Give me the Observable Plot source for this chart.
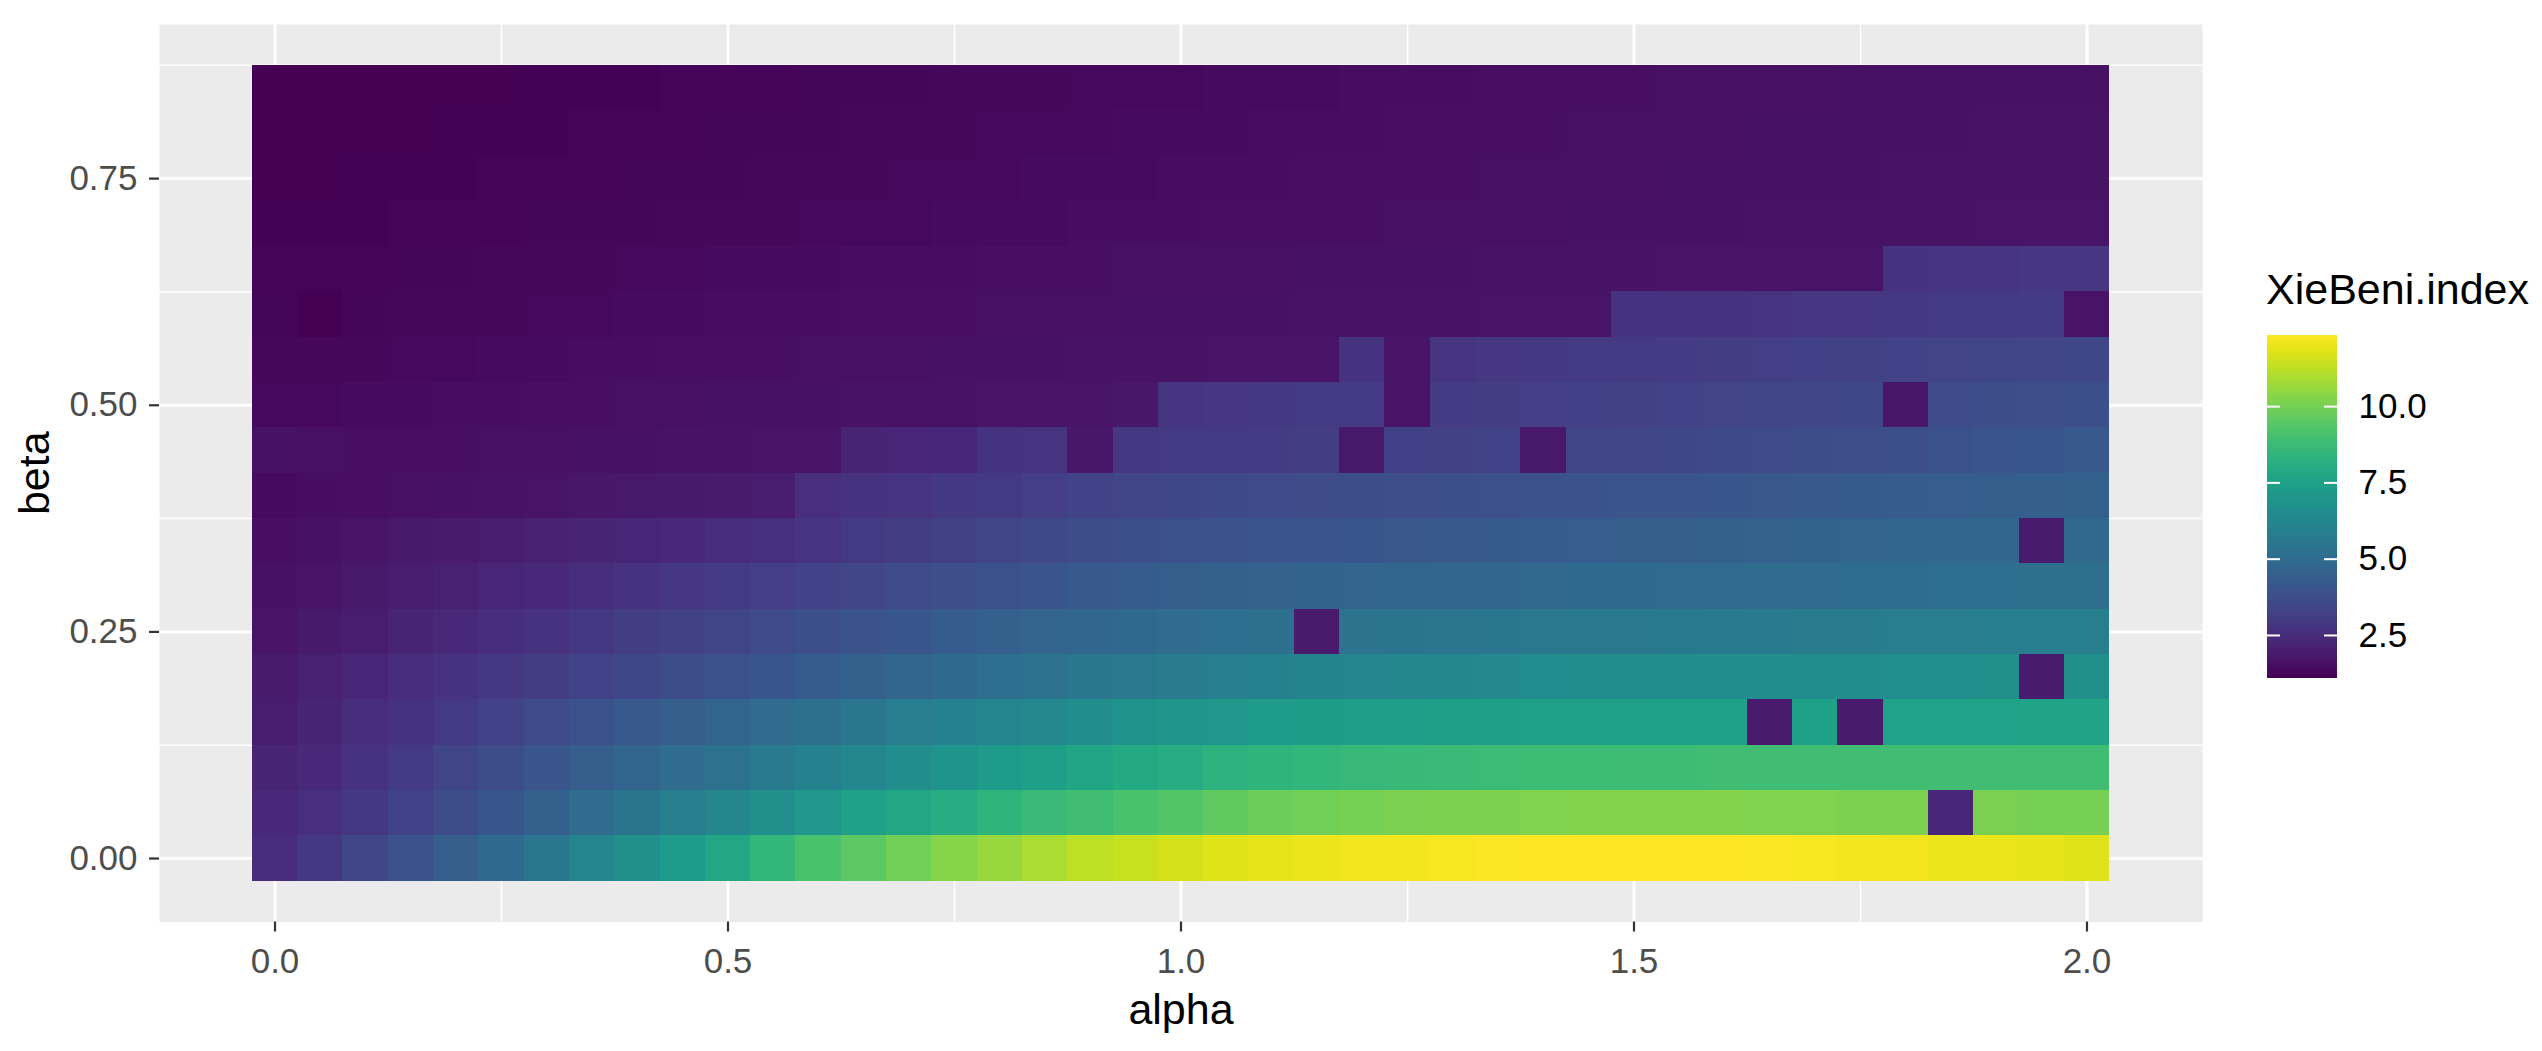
<!DOCTYPE html>
<html>
<head>
<meta charset="utf-8">
<script src="https://cdn.jsdelivr.net/npm/d3@7"></script>
<script src="https://cdn.jsdelivr.net/npm/@observablehq/plot@0.6"></script>
<style>
  html, body { margin: 0; padding: 0; background: #ffffff; }
  body { width: 2542px; height: 1051px; position: relative; overflow: hidden; font-family: "Liberation Sans", Arial, sans-serif; }
  #main { position: absolute; left: 0; top: 0; }
  #legend { position: absolute; left: 2240px; top: 0; }
  #legend-title { position: absolute; left: 2266px; top: 268px; font-size: 43px; line-height: 1; color: #000; white-space: nowrap; }
  [aria-label="x-axis label"], [aria-label="y-axis label"] { fill: #000; font-size: 43px; }
</style>
</head>
<body>
<div id="main"></div>
<div id="legend-title">XieBeni.index</div>
<div id="legend"></div>
<script>
// ---- axes values ----
const alphaValues = [0, 0.05, 0.1, 0.15, 0.2, 0.25, 0.3, 0.35, 0.4, 0.45, 0.5, 0.55, 0.6, 0.65, 0.7, 0.75, 0.8, 0.85, 0.9, 0.95,
  1.0, 1.05, 1.1, 1.15, 1.2, 1.25, 1.3, 1.35, 1.4, 1.45, 1.5, 1.55, 1.6, 1.65, 1.7, 1.75, 1.8, 1.85, 1.9, 1.95, 2.0];
const betaValues = [0, 0.05, 0.1, 0.15, 0.2, 0.25, 0.3, 0.35, 0.4, 0.45, 0.5, 0.55, 0.6, 0.65, 0.7, 0.75, 0.8, 0.85];
const xTicks = [0, 0.5, 1.0, 1.5, 2.0];
const yTicks = [0, 0.25, 0.5, 0.75];
const legendTicks = [2.5, 5.0, 7.5, 10.0];

// ---- XieBeni.index per beta row (alpha 0 .. 2 by 0.05) ----
const beta000 = [2.5, 2.9, 3.4, 3.9, 4.4, 4.9, 5.5, 6.2, 6.7, 7.2, 7.8, 8.5, 9.1, 9.5, 9.9, 10.3, 10.6, 10.9, 11.2, 11.4,
  11.6, 11.8, 11.9, 12.0, 12.1, 12.15, 12.2, 12.25, 12.3, 12.33, 12.33, 12.33, 12.3, 12.25, 12.2, 12.15, 12.1, 12.0, 11.95, 11.9, 11.8];
const beta005 = [2.4, 2.6, 2.9, 3.3, 3.7, 4.1, 4.5, 5.0, 5.4, 5.9, 6.3, 6.7, 7.1, 7.5, 7.8, 8.1, 8.4, 8.7, 8.9, 9.1,
  9.3, 9.6, 9.8, 9.9, 10.0, 10.05, 10.1, 10.1, 10.15, 10.2, 10.2, 10.2, 10.2, 10.15, 10.15, 10.1, 10.1, 2.3, 10.05, 10.0, 10.0];
const beta010 = [2.2, 2.4, 2.7, 3.0, 3.4, 3.7, 4.0, 4.4, 4.7, 5.0, 5.3, 5.7, 6.0, 6.3, 6.6, 6.9, 7.2, 7.4, 7.7, 7.9,
  8.1, 8.3, 8.4, 8.5, 8.6, 8.65, 8.7, 8.75, 8.8, 8.8, 8.85, 8.85, 8.9, 8.9, 8.9, 8.9, 8.9, 8.9, 8.9, 8.9, 8.9];
const beta015 = [2.0, 2.2, 2.5, 2.7, 3.0, 3.3, 3.6, 3.9, 4.2, 4.4, 4.7, 5.0, 5.2, 5.5, 5.8, 6.0, 6.2, 6.4, 6.6, 6.8,
  6.95, 7.1, 7.2, 7.25, 7.3, 7.35, 7.4, 7.4, 7.45, 7.45, 7.5, 7.5, 7.5, 1.9, 7.5, 1.9, 7.55, 7.55, 7.55, 7.6, 7.6];
const beta020 = [1.9, 2.1, 2.3, 2.5, 2.7, 2.9, 3.1, 3.3, 3.5, 3.7, 3.9, 4.1, 4.3, 4.5, 4.7, 4.9, 5.1, 5.3, 5.5, 5.6,
  5.75, 5.9, 6.0, 6.1, 6.2, 6.3, 6.35, 6.4, 6.45, 6.5, 6.5, 6.55, 6.55, 6.6, 6.6, 6.6, 6.65, 6.65, 6.7, 1.9, 6.7];
const beta025 = [1.7, 1.85, 2.0, 2.2, 2.4, 2.55, 2.7, 2.9, 3.1, 3.25, 3.4, 3.6, 3.8, 3.95, 4.1, 4.3, 4.5, 4.65, 4.8, 4.9,
  5.0, 5.1, 5.2, 1.9, 5.35, 5.4, 5.45, 5.5, 5.55, 5.6, 5.6, 5.65, 5.7, 5.7, 5.75, 5.75, 5.8, 5.8, 5.85, 5.85, 5.9];
const beta030 = [1.6, 1.7, 1.8, 1.95, 2.1, 2.25, 2.4, 2.55, 2.7, 2.85, 3.0, 3.15, 3.3, 3.45, 3.6, 3.75, 3.9, 4.05, 4.2, 4.3,
  4.4, 4.5, 4.55, 4.6, 4.65, 4.7, 4.75, 4.8, 4.85, 4.9, 4.9, 4.95, 4.95, 5.0, 5.0, 5.05, 5.05, 5.1, 5.1, 5.15, 5.15];
const beta035 = [1.5, 1.6, 1.7, 1.8, 1.9, 2.0, 2.1, 2.2, 2.3, 2.4, 2.5, 2.65, 2.8, 2.95, 3.1, 3.25, 3.4, 3.55, 3.7, 3.8,
  3.9, 3.95, 4.0, 4.05, 4.1, 4.15, 4.2, 4.25, 4.3, 4.35, 4.4, 4.45, 4.5, 4.55, 4.6, 4.65, 4.7, 4.75, 4.8, 1.9, 4.85];
const beta040 = [1.4, 1.45, 1.5, 1.55, 1.6, 1.65, 1.7, 1.75, 1.8, 1.85, 1.9, 1.95, 2.6, 2.7, 2.8, 2.9, 3.0, 3.15, 3.3, 3.4,
  3.5, 3.55, 3.6, 3.65, 3.7, 3.75, 3.8, 3.85, 3.9, 3.95, 4.0, 4.05, 4.1, 4.15, 4.2, 4.25, 4.3, 4.35, 4.4, 4.45, 4.5];
const beta045 = [1.6, 1.55, 1.5, 1.5, 1.5, 1.55, 1.55, 1.6, 1.6, 1.65, 1.65, 1.7, 1.7, 2.2, 2.25, 2.3, 2.75, 2.8, 1.75, 2.9,
  2.95, 3.0, 3.05, 3.1, 1.8, 3.2, 3.25, 3.3, 1.8, 3.4, 3.45, 3.5, 3.55, 3.6, 3.7, 3.75, 3.8, 3.9, 4.0, 4.1, 4.2];
const beta050 = [1.35, 1.35, 1.4, 1.4, 1.45, 1.45, 1.5, 1.5, 1.55, 1.55, 1.6, 1.6, 1.6, 1.65, 1.65, 1.65, 1.7, 1.7, 1.7, 1.75,
  2.8, 2.85, 2.9, 2.95, 2.95, 1.7, 3.05, 3.1, 3.15, 3.2, 3.25, 3.3, 3.35, 3.4, 3.45, 3.5, 1.75, 3.6, 3.7, 3.75, 3.8];
const beta055 = [1.3, 1.3, 1.3, 1.35, 1.35, 1.4, 1.4, 1.45, 1.45, 1.5, 1.5, 1.5, 1.55, 1.55, 1.55, 1.6, 1.6, 1.6, 1.65, 1.65,
  1.65, 1.7, 1.7, 1.7, 2.75, 1.7, 2.8, 2.85, 2.9, 2.95, 3.0, 3.05, 3.1, 3.15, 3.2, 3.25, 3.3, 3.35, 3.4, 3.45, 3.5];
const beta060 = [1.25, 1.1, 1.25, 1.3, 1.3, 1.3, 1.35, 1.35, 1.4, 1.4, 1.45, 1.45, 1.45, 1.5, 1.5, 1.5, 1.55, 1.55, 1.55, 1.6,
  1.6, 1.6, 1.6, 1.65, 1.65, 1.65, 1.65, 1.7, 1.7, 1.7, 2.7, 2.75, 2.75, 2.8, 2.85, 2.85, 2.9, 2.95, 3.0, 3.05, 1.7];
const beta065 = [1.2, 1.2, 1.2, 1.25, 1.25, 1.3, 1.3, 1.3, 1.35, 1.35, 1.4, 1.4, 1.4, 1.45, 1.45, 1.45, 1.5, 1.5, 1.5, 1.55,
  1.55, 1.55, 1.55, 1.6, 1.6, 1.6, 1.6, 1.65, 1.65, 1.65, 1.65, 1.7, 1.7, 1.7, 1.7, 1.7, 2.75, 2.8, 2.8, 2.85, 2.85];
const beta070 = [1.15, 1.15, 1.15, 1.2, 1.2, 1.2, 1.25, 1.25, 1.25, 1.3, 1.3, 1.3, 1.35, 1.35, 1.35, 1.4, 1.4, 1.4, 1.45, 1.45,
  1.45, 1.5, 1.5, 1.5, 1.5, 1.55, 1.55, 1.55, 1.55, 1.6, 1.6, 1.6, 1.6, 1.65, 1.65, 1.65, 1.65, 1.65, 1.7, 1.7, 1.7];
const beta075 = [1.12, 1.12, 1.15, 1.15, 1.15, 1.2, 1.2, 1.2, 1.25, 1.25, 1.25, 1.3, 1.3, 1.3, 1.35, 1.35, 1.35, 1.4, 1.4, 1.4,
  1.45, 1.45, 1.45, 1.5, 1.5, 1.5, 1.5, 1.55, 1.55, 1.55, 1.55, 1.6, 1.6, 1.6, 1.6, 1.6, 1.65, 1.65, 1.65, 1.65, 1.65];
const beta080 = [1.1, 1.1, 1.12, 1.12, 1.15, 1.15, 1.15, 1.2, 1.2, 1.2, 1.25, 1.25, 1.25, 1.3, 1.3, 1.3, 1.35, 1.35, 1.35, 1.4,
  1.4, 1.4, 1.45, 1.45, 1.45, 1.5, 1.5, 1.5, 1.5, 1.55, 1.55, 1.55, 1.55, 1.6, 1.6, 1.6, 1.6, 1.6, 1.65, 1.65, 1.65];
const beta085 = [1.09, 1.1, 1.1, 1.1, 1.12, 1.12, 1.15, 1.15, 1.15, 1.2, 1.2, 1.2, 1.25, 1.25, 1.25, 1.3, 1.3, 1.3, 1.35, 1.35,
  1.35, 1.4, 1.4, 1.4, 1.45, 1.45, 1.45, 1.5, 1.5, 1.5, 1.5, 1.55, 1.55, 1.55, 1.55, 1.6, 1.6, 1.6, 1.6, 1.6, 1.6];

const rowsByBeta = [beta000, beta005, beta010, beta015, beta020, beta025, beta030, beta035, beta040,
  beta045, beta050, beta055, beta060, beta065, beta070, beta075, beta080, beta085];

const cells = [];
betaValues.forEach((b, i) => alphaValues.forEach((a, j) => cells.push({alpha: a, beta: b, value: rowsByBeta[i][j]})));

const half = 0.025; // half of the grid step
const colorDomain = [1.09, 12.33];
const font = "Liberation Sans, Arial, sans-serif";

const main = Plot.plot({
  width: 2240,
  height: 1051,
  marginLeft: 159,
  marginRight: 38,
  marginTop: 24,
  marginBottom: 129.5,
  style: {fontFamily: font, fontSize: "35px", background: "transparent", color: "#4d4d4d"},
  x: {domain: [-0.1275, 2.1275]},
  y: {domain: [-0.07, 0.92]},
  color: {type: "linear", scheme: "viridis", domain: colorDomain},
  marks: [
    Plot.frame({fill: "#EBEBEB", stroke: "none"}),
    Plot.gridX([0.25, 0.75, 1.25, 1.75], {stroke: "#ffffff", strokeOpacity: 1, strokeWidth: 1.5}),
    Plot.gridY([0.125, 0.375, 0.625, 0.875], {stroke: "#ffffff", strokeOpacity: 1, strokeWidth: 1.5}),
    Plot.gridX(xTicks, {stroke: "#ffffff", strokeOpacity: 1, strokeWidth: 3}),
    Plot.gridY(yTicks, {stroke: "#ffffff", strokeOpacity: 1, strokeWidth: 3}),
    Plot.rect(cells, {
      x1: d => d.alpha - half, x2: d => d.alpha + half,
      y1: d => d.beta - half, y2: d => d.beta + half,
      fill: "value", shapeRendering: "crispEdges"
    }),
    Plot.axisX(xTicks, {
      tickSize: 10, tickPadding: 16, stroke: "#333333", strokeWidth: 2.2,
      tickFormat: d3.format(".1f"), fill: "#4d4d4d", fontSize: 35,
      label: "alpha", labelAnchor: "center", labelArrow: "none", labelOffset: 101.5
    }),
    Plot.axisY(yTicks, {
      tickSize: 10, tickPadding: 12, stroke: "#333333", strokeWidth: 2.2,
      tickFormat: d3.format(".2f"), fill: "#4d4d4d", fontSize: 35,
      label: "beta", labelAnchor: "center", labelArrow: "none", labelOffset: 141
    })
  ]
});
document.getElementById("main").appendChild(main);

// ---- colour bar legend (drawn with Plot) ----
const legendStops = d3.range(colorDomain[0], colorDomain[1], 0.02);
const legend = Plot.plot({
  width: 302,
  height: 1051,
  marginLeft: 27,
  marginRight: 205,
  marginTop: 335,
  marginBottom: 373,
  style: {fontFamily: font, fontSize: "35px", background: "transparent", color: "#000"},
  x: {domain: [0, 1], axis: null},
  y: {domain: colorDomain, axis: null},
  color: {type: "linear", scheme: "viridis", domain: colorDomain},
  marks: [
    Plot.rect(legendStops, {
      x1: 0, x2: 1,
      y1: d => d, y2: d => Math.min(d + 0.03, colorDomain[1]),
      fill: d => d, shapeRendering: "crispEdges"
    }),
    Plot.tickY(legendTicks, {y: d => d, stroke: "#ffffff", strokeWidth: 2, insetRight: 57}),
    Plot.tickY(legendTicks, {y: d => d, stroke: "#ffffff", strokeWidth: 2, insetLeft: 57}),
    Plot.axisY(legendTicks, {
      anchor: "right", tickSize: 0, tickPadding: 21, fill: "#000", fontSize: 35,
      tickFormat: d3.format(".1f"), label: null
    })
  ]
});
document.getElementById("legend").appendChild(legend);
</script>
</body>
</html>
